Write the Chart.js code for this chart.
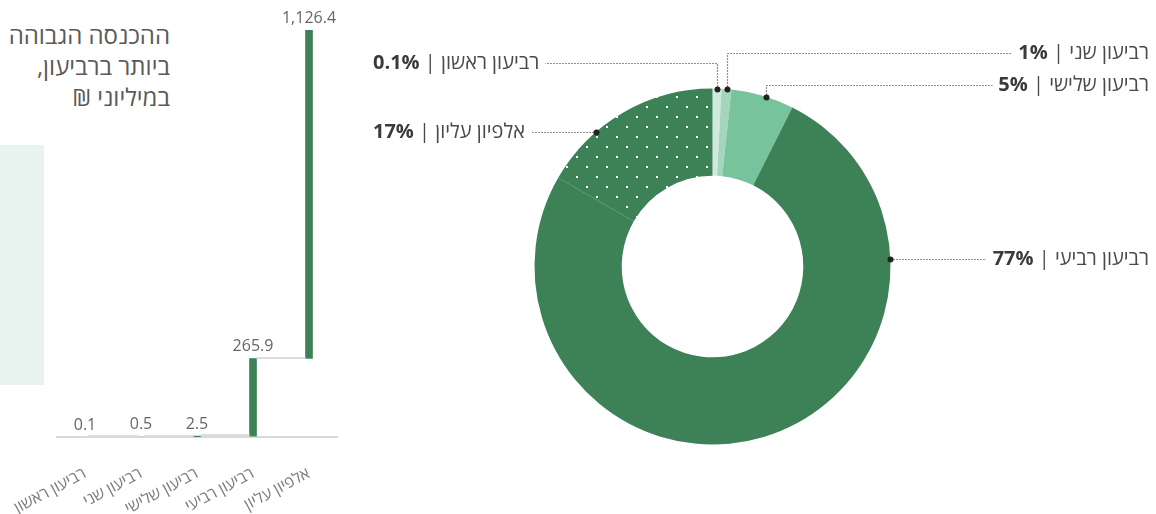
<!DOCTYPE html>
<html lang="he">
<head>
<meta charset="utf-8">
<script src="https://cdn.jsdelivr.net/npm/chart.js@4"></script>
<style>
body{margin:0;background:#fff;width:1156px;height:514px;position:relative;overflow:hidden;font-family:"Open Sans","Liberation Sans",sans-serif;}
#panel{position:absolute;left:0;top:145px;width:44px;height:240px;background:#e8f2ee;}
#title{position:absolute;right:986px;top:19px;direction:rtl;text-align:right;font-size:24px;line-height:31px;color:#5a5a5a;white-space:nowrap;}
#bars{position:absolute;left:0;top:0;}
#donut{position:absolute;left:340px;top:0;}
</style>
</head>
<body>
<div id="panel"></div>
<div id="title">ההכנסה הגבוהה<br>ביותר ברביעון,<br>במיליוני ₪</div>
<canvas id="bars" width="345" height="514"></canvas>
<canvas id="donut" width="816" height="514"></canvas>
<script>
// categories and values
const categories = ['רביעון ראשון', 'רביעון שני', 'רביעון שלישי', 'רביעון רביעי', 'אלפיון עליון'];
const topIncome = [0.1, 0.5, 2.5, 265.9, 1126.4];   // highest income in group, NIS millions
const sharePct = [0.1, 1, 5, 77, 17];                // label percentages
const shareDrawn = [0.8, 0.9, 5.7, 75.9, 16.7];      // slice sizes as drawn in the picture

const dark = '#3d8157';
const barColors = ['#d0e9dd', '#a9d4bd', dark, dark, dark];
const FONT = '"Open Sans","Liberation Sans",sans-serif';

// waterfall: each bar starts where the previous one ended
let run = 0;
const floating = topIncome.map(v => { const s = run; run += v; return [s, run]; });

function fmt(v) {
  return v.toLocaleString('en-US', {minimumFractionDigits: 1, maximumFractionDigits: 1});
}

const waterfallPlugin = {
  id: 'waterfall',
  afterDatasetsDraw(chart) {
    const ctx = chart.ctx, bars = chart.getDatasetMeta(0).data, y = chart.scales.y;
    ctx.save();
    ctx.strokeStyle = '#dcdcdc';
    ctx.lineWidth = 2;
    for (let i = 0; i < bars.length - 1; i++) {
      const yy = Math.round(y.getPixelForValue(floating[i][1])) - 1;
      ctx.beginPath();
      ctx.moveTo(bars[i].x + bars[i].width / 2, yy);
      ctx.lineTo(bars[i + 1].x - bars[i + 1].width / 2, yy);
      ctx.stroke();
    }
    ctx.fillStyle = '#666';
    ctx.font = '16px ' + FONT;
    ctx.textAlign = 'center';
    ctx.textBaseline = 'bottom';
    bars.forEach((b, i) => ctx.fillText(fmt(topIncome[i]), b.x, b.y - 4));
    ctx.restore();
  }
};

new Chart(document.getElementById('bars'), {
  type: 'bar',
  data: {
    labels: categories,
    datasets: [{data: floating, backgroundColor: barColors, barThickness: 7, borderSkipped: false}]
  },
  options: {
    responsive: false,
    animation: false,
    layout: {padding: {top: 30, left: 57, right: 8, bottom: 0}},
    plugins: {legend: {display: false}, tooltip: {enabled: false}},
    scales: {
      x: {
        grid: {display: false},
        border: {color: '#d9d9d9', width: 2},
        ticks: {color: '#7a7a7a', font: {size: 16, family: FONT}, minRotation: 28, maxRotation: 28, padding: 19, autoSkip: false},
        afterFit(s) { s.height = 77; s.paddingLeft = 0; s.paddingRight = 0; }
      },
      y: {display: false, min: 0, max: run}
    }
  },
  plugins: [waterfallPlugin]
});

// donut
const donutCanvas = document.getElementById('donut');
function dotPattern(bg) {
  const c = document.createElement('canvas');
  c.width = 20; c.height = 20;
  const g = c.getContext('2d');
  g.fillStyle = bg;
  g.fillRect(0, 0, 20, 20);
  g.fillStyle = '#fff';
  g.fillRect(6, 6, 2, 2);
  g.fillRect(16, 16, 2, 2);
  return donutCanvas.getContext('2d').createPattern(c, 'repeat');
}
const sliceColors = ['#d0e9dd', '#a5d5bd', '#76c39c', dark, dotPattern(dark)];

// where each leader leaves its slice and how it runs
const leaderLayout = [
  {frac: 0.5, side: 'left', elbowY: 63},
  {frac: 0.6, side: 'right', elbowY: 53},
  {frac: 0.55, side: 'right', elbowY: 85},
  {frac: 0.223, side: 'right'},
  {frac: 0.318, side: 'left'}
];
const labelLeftX = 33, labelRightX = 809, gap = 6;

const leaderPlugin = {
  id: 'leaders',
  afterDraw(chart) {
    const ctx = chart.ctx, arcs = chart.getDatasetMeta(0).data;
    const boldFont = 'bold 20px ' + FONT, regFont = '20px ' + FONT;
    ctx.save();
    arcs.forEach((a, i) => {
      const L = leaderLayout[i];
      const ang = a.startAngle + L.frac * (a.endAngle - a.startAngle);
      const px = Math.round(a.x + a.outerRadius * Math.cos(ang)) + 0.5;
      const py = Math.round(a.y + a.outerRadius * Math.sin(ang)) + 0.5;
      const pct = sharePct[i] + '%', rest = ' | ' + categories[i];
      ctx.font = boldFont;
      const w1 = ctx.measureText(pct).width;
      ctx.font = regFont;
      const w2 = ctx.measureText(rest).width;
      const ty = L.elbowY != null ? L.elbowY + 0.5 : py;
      const tx = L.side === 'left' ? labelLeftX : labelRightX - w1 - w2;
      const lineEnd = L.side === 'left' ? tx + w1 + w2 + gap : tx - gap;

      ctx.setLineDash([1, 2]);
      ctx.strokeStyle = '#222';
      ctx.lineWidth = 1.2;
      ctx.beginPath();
      ctx.moveTo(px, py);
      if (L.elbowY != null) ctx.lineTo(px, ty);
      ctx.lineTo(lineEnd, ty);
      ctx.stroke();
      ctx.setLineDash([]);

      ctx.fillStyle = '#222';
      ctx.beginPath();
      ctx.arc(px, py, 3, 0, 2 * Math.PI);
      ctx.fill();

      ctx.textBaseline = 'middle';
      ctx.textAlign = 'left';
      ctx.font = boldFont;
      ctx.fillStyle = '#3a3a3a';
      ctx.fillText(pct, tx, ty);
      ctx.font = regFont;
      ctx.fillStyle = '#4a4a4a';
      ctx.fillText(rest, tx + w1, ty);
    });
    ctx.restore();
  }
};

new Chart(donutCanvas, {
  type: 'doughnut',
  data: {
    labels: categories,
    datasets: [{data: shareDrawn, backgroundColor: sliceColors, borderWidth: 0, hoverOffset: 0}]
  },
  options: {
    responsive: false,
    animation: false,
    cutout: '51%',
    layout: {padding: {top: 88.5, bottom: 69.5, left: 194.5, right: 265.5}},
    plugins: {legend: {display: false}, tooltip: {enabled: false}}
  },
  plugins: [leaderPlugin]
});
</script>
</body>
</html>
